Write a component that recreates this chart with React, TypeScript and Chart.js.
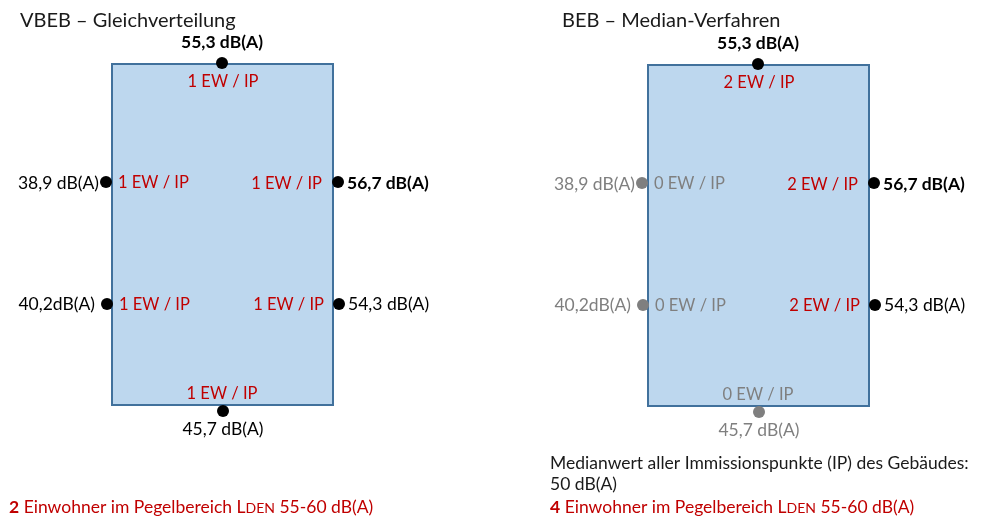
import React, { useEffect, useRef } from "react";
import { Chart, registerables } from "chart.js";

Chart.register(...registerables);

// ---- data ----
const panelTitles = ["VBEB – Gleichverteilung", "BEB – Median-Verfahren"];
const ipNames = ["IP oben", "IP links oben", "IP rechts oben", "IP links unten", "IP rechts unten", "IP unten"];
const pegelWerte = [55.3, 38.9, 56.7, 40.2, 54.3, 45.7];
const pegelTexte = ["55,3 dB(A)", "38,9 dB(A)", "56,7 dB(A)", "40,2dB(A)", "54,3 dB(A)", "45,7 dB(A)"];
const ewVBEB = [1, 1, 1, 1, 1, 1];
const ewBEB = [2, 0, 2, 0, 2, 0];
const einwohnerSumme = [2, 4];
const medianText = ["Medianwert aller Immissionspunkte (IP) des Gebäudes:", "50 dB(A)"];
const pegelbereichGrenze = 55;

// ---- layout ----
const W = 984;
const H = 520;
const FONT = 'Lato, "Open Sans", sans-serif';
const RED = "#c00000";
const GRAY = "#7f7f7f";
const DARK = "#1a1a1a";
const panelX = [112, 648];
const panelY = [64, 65];
const titleX = [20, 562];
const RW = 221;
const RH = 341;
const ipOffset = [[110, -1], [-6, 118], [226, 118], [-5, 240], [227, 240], [111, 347]];
const dbPos: [CanvasTextAlign, number, number][] = [
  ["center", 0, -15], ["right", -7, 7], ["left", 9, 7], ["right", -12, 6], ["left", 9, 6], ["center", 0, 24],
];
const ewPos: [CanvasTextAlign, number, number][] = [
  ["center", 111, 23], ["left", 6, 124], ["right", 210, 125], ["left", 7, 246], ["right", 212, 246], ["center", 110, 335],
];
const DB_SIZE = 17.5;
const EW_SIZE = 16.5;
const FOOT_SIZE = 17.5;

const panelEW = [ewVBEB, ewBEB];

function pointsFor(p: number) {
  return ipNames.map((_, i) => ({ x: panelX[p] + ipOffset[i][0], y: panelY[p] + ipOffset[i][1] }));
}
function colorsFor(p: number) {
  return panelEW[p].map((ew) => (p === 1 && ew === 0 ? GRAY : "#000000"));
}

const diagramPlugin = {
  id: "diagram",
  beforeDatasetsDraw(chart: any) {
    const { ctx, scales } = chart;
    const sx = (v: number) => scales.x.getPixelForValue(v);
    const sy = (v: number) => scales.y.getPixelForValue(v);
    ctx.save();
    for (let p = 0; p < 2; p++) {
      const x0 = sx(panelX[p]);
      const y0 = sy(panelY[p]);
      const x1 = sx(panelX[p] + RW);
      const y1 = sy(panelY[p] + RH);
      ctx.fillStyle = "#bdd7ee";
      ctx.fillRect(x0, y0, x1 - x0, y1 - y0);
      ctx.strokeStyle = "#41719c";
      ctx.lineWidth = 2;
      ctx.strokeRect(x0, y0, x1 - x0, y1 - y0);
    }
    ctx.restore();
  },
  afterDatasetsDraw(chart: any) {
    const { ctx, scales } = chart;
    const sx = (v: number) => scales.x.getPixelForValue(v);
    const sy = (v: number) => scales.y.getPixelForValue(v);
    ctx.save();
    ctx.textBaseline = "alphabetic";
    for (let p = 0; p < 2; p++) {
      // title
      ctx.font = `20px ${FONT}`;
      ctx.fillStyle = DARK;
      ctx.textAlign = "left";
      ctx.fillText(panelTitles[p], sx(titleX[p]), sy(27));
      const pts = pointsFor(p);
      ipNames.forEach((_, i) => {
        const ew = panelEW[p][i];
        const gray = p === 1 && ew === 0;
        const bold = pegelWerte[i] >= pegelbereichGrenze;
        ctx.font = `${bold ? "bold " : ""}${DB_SIZE}px ${FONT}`;
        ctx.fillStyle = gray ? GRAY : "#000000";
        ctx.textAlign = dbPos[i][0];
        ctx.fillText(pegelTexte[i], sx(pts[i].x + dbPos[i][1]), sy(pts[i].y + dbPos[i][2]));
        ctx.font = `${EW_SIZE}px ${FONT}`;
        ctx.fillStyle = gray ? GRAY : RED;
        ctx.textAlign = ewPos[i][0];
        ctx.fillText(`${ew} EW / IP`, sx(panelX[p] + ewPos[i][1]), sy(panelY[p] + ewPos[i][2]));
      });
      // footer
      const fx = p === 0 ? 9 : 550;
      ctx.textAlign = "left";
      if (p === 1) {
        ctx.font = `${FOOT_SIZE}px ${FONT}`;
        ctx.fillStyle = DARK;
        ctx.fillText(medianText[0], sx(fx), sy(469));
        ctx.fillText(medianText[1], sx(fx), sy(490));
      }
      const segs: [string, string][] = [
        [String(einwohnerSumme[p]), `bold ${FOOT_SIZE}px ${FONT}`],
        [" Einwohner im Pegelbereich ", `${FOOT_SIZE}px ${FONT}`],
        ["L", `${FOOT_SIZE}px ${FONT}`],
        ["DEN", `${FOOT_SIZE * 0.8}px ${FONT}`],
        [" 55-60 dB(A)", `${FOOT_SIZE}px ${FONT}`],
      ];
      let cx = sx(fx);
      ctx.fillStyle = RED;
      segs.forEach(([t, f]) => {
        ctx.font = f;
        ctx.fillText(t, cx, sy(513));
        cx += ctx.measureText(t).width;
      });
    }
    ctx.restore();
  },
};

export default function App() {
  const ref = useRef<HTMLCanvasElement>(null);
  useEffect(() => {
    if (!ref.current) return;
    const chart = new Chart(ref.current, {
      type: "scatter",
      data: {
        datasets: [0, 1].map((p) => ({
          label: panelTitles[p],
          data: pointsFor(p),
          pointRadius: 6,
          pointHoverRadius: 6,
          pointBackgroundColor: colorsFor(p),
          pointBorderColor: colorsFor(p),
          pointBorderWidth: 0,
          clip: false as any,
        })),
      },
      options: {
        animation: false,
        responsive: false,
        devicePixelRatio: 1,
        events: [],
        layout: { padding: 0, autoPadding: false },
        plugins: { legend: { display: false }, tooltip: { enabled: false } },
        scales: {
          x: { type: "linear", min: 0, max: W, display: false },
          y: { type: "linear", min: 0, max: H, reverse: true, display: false },
        },
      },
      plugins: [diagramPlugin],
    });
    return () => chart.destroy();
  }, []);
  return (
    <div style={{ position: "fixed", left: 0, top: 0, width: W, height: H, background: "#fff" }}>
      <canvas ref={ref} width={W} height={H} style={{ width: W, height: H, display: "block" }} />
    </div>
  );
}
